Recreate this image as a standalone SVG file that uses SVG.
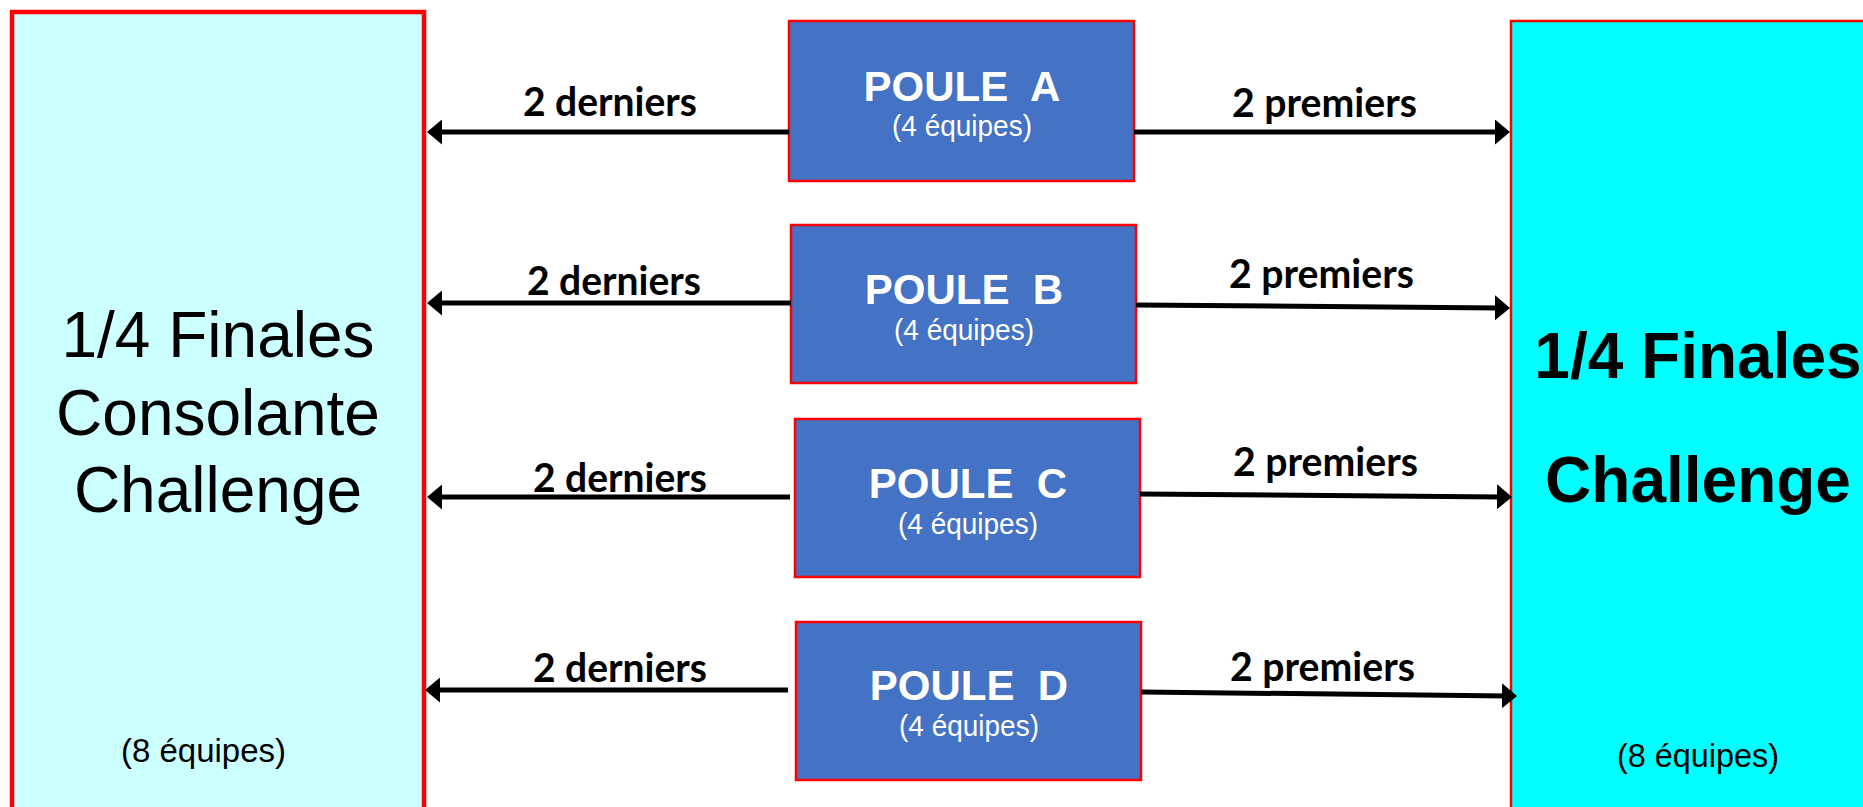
<svg xmlns="http://www.w3.org/2000/svg" width="1863" height="807" viewBox="0 0 1863 807">
<style>
.big{font-family:"Liberation Sans",Arial,sans-serif;font-size:64px;fill:#000;text-anchor:middle}
.bigb{font-family:"Liberation Sans",Arial,sans-serif;font-size:64px;font-weight:bold;fill:#000;text-anchor:middle}
.eq8{font-family:"Liberation Sans",Arial,sans-serif;font-size:34px;fill:#000}
.poule{fill:#4472C4;stroke:#FF0000;stroke-width:2.5}
.pt{font-family:"Liberation Sans",Arial,sans-serif;font-size:42px;font-weight:bold;fill:#fff;text-anchor:middle}
.ps{font-family:"Liberation Sans",Arial,sans-serif;font-size:30px;fill:#fff}
.lbl{font-family:Lato,"Open Sans",sans-serif;font-size:40px;font-weight:bold;fill:#000}
.arr{stroke:#000;stroke-width:5;fill:none;marker-end:url(#ah)}
</style>
<defs>
<marker id="ah" viewBox="0 0 3 5" markerUnits="strokeWidth" markerWidth="3" markerHeight="5" refX="1" refY="2.5" orient="auto">
<path d="M0,0 L3,2.5 L0,5 z" fill="#000"/>
</marker>
</defs>
<rect x="0" y="0" width="1863" height="807" fill="#fff"/>
<g id="consolante">
<rect x="12" y="12" width="412" height="830" fill="#CCFFFF" stroke="#FF0000" stroke-width="4.5"/>
<text class="big" x="218" y="357">1/4 Finales</text>
<text class="big" x="218" y="435">Consolante</text>
<text class="big" x="218" y="512">Challenge</text>
<text class="eq8" x="121" y="762" textLength="165" lengthAdjust="spacingAndGlyphs">(8 équipes)</text>
</g>
<g id="challenge">
<rect x="1511" y="21" width="400" height="830" fill="#00FFFF" stroke="#FF0000" stroke-width="2.5"/>
<text class="bigb" x="1698" y="378">1/4 Finales</text>
<text class="bigb" x="1698" y="502">Challenge</text>
<text class="eq8" x="1617" y="767" textLength="162" lengthAdjust="spacingAndGlyphs">(8 équipes)</text>
</g>
<g id="pouleA">
<rect class="poule" x="789" y="21" width="345" height="160"/>
<text class="pt" x="962" y="101">POULE&#160; A</text>
<text class="ps" x="892" y="136" textLength="140" lengthAdjust="spacingAndGlyphs">(4 équipes)</text>
</g>
<g id="pouleB">
<rect class="poule" x="791" y="225" width="345" height="158"/>
<text class="pt" x="964" y="304">POULE&#160; B</text>
<text class="ps" x="894" y="340" textLength="140" lengthAdjust="spacingAndGlyphs">(4 équipes)</text>
</g>
<g id="pouleC">
<rect class="poule" x="795" y="419" width="345" height="158"/>
<text class="pt" x="968" y="498">POULE&#160; C</text>
<text class="ps" x="898" y="534" textLength="140" lengthAdjust="spacingAndGlyphs">(4 équipes)</text>
</g>
<g id="pouleD">
<rect class="poule" x="796" y="622" width="345" height="158"/>
<text class="pt" x="969" y="700">POULE&#160; D</text>
<text class="ps" x="899" y="736" textLength="140" lengthAdjust="spacingAndGlyphs">(4 équipes)</text>
</g>
<g id="connectors">
<line class="arr" x1="789" y1="132" x2="437" y2="132"/>
<line class="arr" x1="791" y1="303" x2="437" y2="303"/>
<line class="arr" x1="790" y1="497" x2="437" y2="497"/>
<line class="arr" x1="788" y1="690" x2="435" y2="690"/>
<line class="arr" x1="1134" y1="132" x2="1500" y2="132"/>
<line class="arr" x1="1136" y1="305" x2="1500" y2="307.9"/>
<line class="arr" x1="1140" y1="494" x2="1502" y2="496.9"/>
<line class="arr" x1="1141" y1="692" x2="1507" y2="695.9"/>
<text class="lbl" x="523" y="116" textLength="174" lengthAdjust="spacingAndGlyphs">2 derniers</text>
<text class="lbl" x="527" y="295" textLength="174" lengthAdjust="spacingAndGlyphs">2 derniers</text>
<text class="lbl" x="533" y="492" textLength="174" lengthAdjust="spacingAndGlyphs">2 derniers</text>
<text class="lbl" x="533" y="682" textLength="174" lengthAdjust="spacingAndGlyphs">2 derniers</text>
<text class="lbl" x="1232" y="117" textLength="185" lengthAdjust="spacingAndGlyphs">2 premiers</text>
<text class="lbl" x="1229" y="288" textLength="185" lengthAdjust="spacingAndGlyphs">2 premiers</text>
<text class="lbl" x="1233" y="476" textLength="185" lengthAdjust="spacingAndGlyphs">2 premiers</text>
<text class="lbl" x="1230" y="681" textLength="185" lengthAdjust="spacingAndGlyphs">2 premiers</text>
</g>
</svg>
